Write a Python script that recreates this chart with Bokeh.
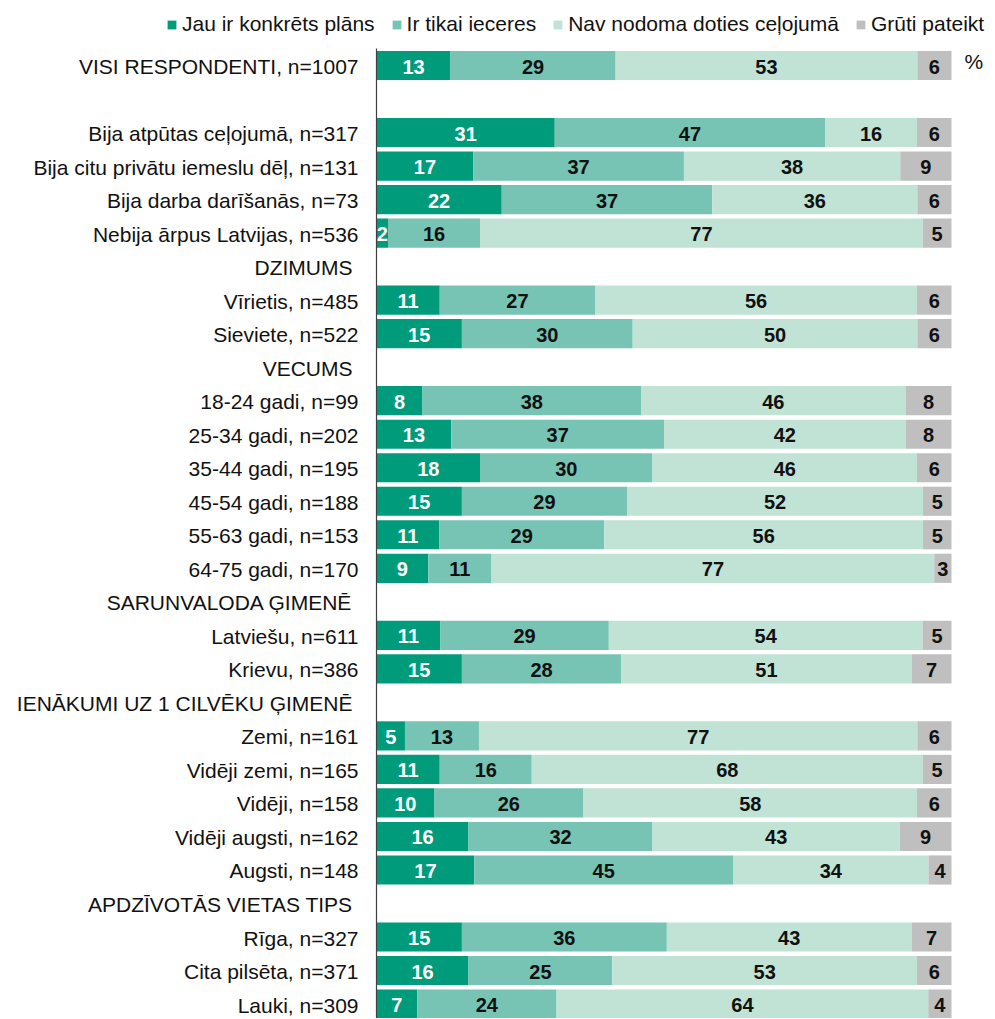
from bokeh.plotting import figure
from bokeh.models import ColumnDataSource, Range1d, Legend, LegendItem
from bokeh.core.properties import value
from bokeh.embed import file_html
from bokeh.resources import INLINE

# ---------------- data ----------------
labels = [
    "VISI RESPONDENTI, n=1007", "",
    "Bija atpūtas ceļojumā, n=317", "Bija citu privātu iemeslu dēļ, n=131",
    "Bija darba darīšanās, n=73", "Nebija ārpus Latvijas, n=536",
    "DZIMUMS", "Vīrietis, n=485", "Sieviete, n=522",
    "VECUMS", "18-24 gadi, n=99", "25-34 gadi, n=202", "35-44 gadi, n=195",
    "45-54 gadi, n=188", "55-63 gadi, n=153", "64-75 gadi, n=170",
    "SARUNVALODA ĢIMENĒ", "Latviešu, n=611", "Krievu, n=386",
    "IENĀKUMI UZ 1 CILVĒKU ĢIMENĒ", "Zemi, n=161", "Vidēji zemi, n=165",
    "Vidēji, n=158", "Vidēji augsti, n=162", "Augsti, n=148",
    "APDZĪVOTĀS VIETAS TIPS", "Rīga, n=327", "Cita pilsēta, n=371", "Lauki, n=309",
]
header_rows = ["DZIMUMS", "VECUMS", "SARUNVALODA ĢIMENĒ",
               "IENĀKUMI UZ 1 CILVĒKU ĢIMENĒ", "APDZĪVOTĀS VIETAS TIPS"]

series_names = ["Jau ir konkrēts plāns", "Ir tikai ieceres",
                "Nav nodoma doties ceļojumā", "Grūti pateikt"]

plan = [13, None, 31, 17, 22, 2, None, 11, 15, None, 8, 13, 18, 15, 11, 9,
        None, 11, 15, None, 5, 11, 10, 16, 17, None, 15, 16, 7]
ideas = [29, None, 47, 37, 37, 16, None, 27, 30, None, 38, 37, 30, 29, 29, 11,
         None, 29, 28, None, 13, 16, 26, 32, 45, None, 36, 25, 24]
no_trip = [53, None, 16, 38, 36, 77, None, 56, 50, None, 46, 42, 46, 52, 56, 77,
           None, 54, 51, None, 77, 68, 58, 43, 34, None, 43, 53, 64]
hard = [6, None, 6, 9, 6, 5, None, 6, 6, None, 8, 8, 6, 5, 5, 3,
        None, 5, 7, None, 6, 5, 6, 9, 4, None, 7, 6, 4]

colors = ["#009B7B", "#77C4B4", "#C0E3D6", "#BFBFBF"]
text_colors = ["white", "#111111", "#111111", "#111111"]

# ---------------- geometry ----------------
W, H = 993, 1018
px_per_unit = 5.75
x0_px = 376          # x=0 in figure pixels
row0_px = 65         # centre of first row in figure pixels
row_px = 33.52

p = figure(width=W, height=H, output_backend="svg", toolbar_location=None,
           x_range=Range1d(-x0_px / px_per_unit, (W - x0_px) / px_per_unit),
           y_range=Range1d((H - row0_px) / row_px, -row0_px / row_px),
           x_axis_type=None, y_axis_type=None,
           min_border=0, min_border_left=0, min_border_right=0,
           min_border_top=0, min_border_bottom=0)
p.outline_line_color = None
p.grid.visible = False
p.background_fill_color = "white"

font = value("Liberation Sans")

# ---------------- bars ----------------
series = [plan, ideas, no_trip, hard]
bar_rows = [i for i, v in enumerate(plan) if v is not None]
cum = {i: 0.0 for i in bar_rows}
totals = {i: sum(s[i] for s in series) for i in bar_rows}
renderers = []
for k, s in enumerate(series):
    ys, lefts, rights, mids, txt = [], [], [], [], []
    for i in bar_rows:
        w = s[i] * 100.0 / totals[i]
        ys.append(i)
        lefts.append(cum[i])
        rights.append(cum[i] + w)
        mids.append(cum[i] + w / 2)
        txt.append(str(s[i]))
        cum[i] += w
    src = ColumnDataSource(dict(y=ys, left=lefts, right=rights, mid=mids, txt=txt))
    r = p.hbar(y="y", left="left", right="right", height=0.87, source=src,
               fill_color=colors[k], line_color=None)
    renderers.append(r)
    p.text(x="mid", y="y", text="txt", source=src, text_align="center",
           text_baseline="middle", text_font=font, text_font_style="bold",
           text_font_size="20px", text_color=text_colors[k], y_offset=1)

# ---------------- axis line ----------------
p.segment(x0=[0], y0=[-0.51], x1=[0], y1=[len(labels) + 1],
          line_color="#404040", line_width=1.2)

# ---------------- category labels ----------------
cat_idx = [i for i, l in enumerate(labels) if l and l not in header_rows]
hdr_idx = [i for i, l in enumerate(labels) if l in header_rows]
p.text(x=[0] * len(cat_idx), y=cat_idx, text=[labels[i] for i in cat_idx],
       x_offset=-18, y_offset=1, text_align="right", text_baseline="middle",
       text_font=font, text_font_size="21px", text_color="#111111")
p.text(x=[0] * len(hdr_idx), y=hdr_idx, text=[labels[i] for i in hdr_idx],
       x_offset=-24, y_offset=1, text_align="right", text_baseline="middle",
       text_font=font, text_font_size="21px", text_color="#111111")

# percent sign
p.text(x=[100], y=[0], text=["%"], x_offset=13, y_offset=-4,
       text_align="left", text_baseline="middle", text_font=font,
       text_font_size="21px", text_color="#111111")

# ---------------- legend ----------------
legend = Legend(items=[LegendItem(label=series_names[k], renderers=[renderers[k]])
                       for k in range(4)],
                orientation="horizontal", location=(166, H - 36),
                glyph_width=11, glyph_height=11, label_standoff=5, spacing=16,
                padding=0, margin=0, label_height=24,
                label_text_font="Liberation Sans", label_text_font_size="21px",
                label_text_color="#111111",
                border_line_color=None, background_fill_alpha=0)
p.add_layout(legend, "center")

open("out.html", "w").write(file_html(p, INLINE))
